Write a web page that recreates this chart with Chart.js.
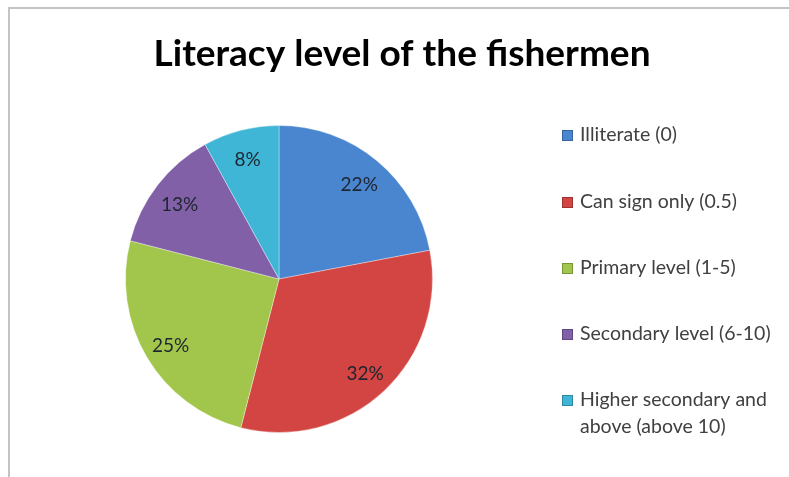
<!DOCTYPE html>
<html>
<head>
<meta charset="utf-8">
<script src="https://cdn.jsdelivr.net/npm/chart.js@4"></script>
<style>
  body { margin: 0; background: #fff; }
</style>
</head>
<body>
<canvas id="literacyPie" width="789" height="477"></canvas>
<script>
// data
const labels = ['Illiterate (0)', 'Can sign only (0.5)', 'Primary level (1-5)', 'Secondary level (6-10)', ['Higher secondary and', 'above (above 10)']];
const values = [22, 32, 25, 13, 8];
const sliceColors = ['#4a86d0', '#d24542', '#a2c64c', '#8160a8', '#3fb6d6'];
const chartTitle = 'Literacy level of the fishermen';

// frame, title, percent labels and the legend on the right
const decorations = {
    id: 'decorations',
    beforeDraw(chart) {
        const ctx = chart.ctx;
        ctx.save();
        ctx.strokeStyle = '#c4c4c4';
        ctx.lineWidth = 2;
        ctx.beginPath();
        ctx.moveTo(9, 477);
        ctx.lineTo(9, 8);
        ctx.lineTo(789, 8);
        ctx.stroke();
        ctx.restore();
    },
    afterDraw(chart) {
        const ctx = chart.ctx;
        ctx.save();

        // title
        ctx.fillStyle = '#000';
        ctx.font = 'bold 37px Lato';
        ctx.textAlign = 'center';
        ctx.textBaseline = 'middle';
        ctx.fillText(chartTitle, 402, 54);

        // percent labels inside slices
        const meta = chart.getDatasetMeta(0);
        const total = values.reduce((a, b) => a + b, 0);
        ctx.font = '19px Lato';
        ctx.fillStyle = '#1e2530';
        meta.data.forEach((arc, i) => {
            const mid = (arc.startAngle + arc.endAngle) / 2;
            const r = arc.outerRadius * 0.82;
            const pct = Math.round(values[i] / total * 100) + '%';
            ctx.fillText(pct, arc.x + Math.cos(mid) * r, arc.y + Math.sin(mid) * r + 3);
        });

        // legend
        const legendY = [135, 202, 268, 334, 400];
        ctx.textAlign = 'left';
        ctx.font = '19.5px Lato';
        labels.forEach((lab, i) => {
            const y = legendY[i];
            ctx.fillStyle = sliceColors[i];
            ctx.fillRect(562, y - 5, 11, 11);
            ctx.strokeStyle = 'rgba(0,0,0,0.25)';
            ctx.lineWidth = 1;
            ctx.strokeRect(562.5, y - 4.5, 10, 10);
            ctx.fillStyle = '#404040';
            const lines = Array.isArray(lab) ? lab : [lab];
            lines.forEach((t, j) => ctx.fillText(t, 580, y + j * 27));
        });
        ctx.restore();
    }
};

const ctx = document.getElementById('literacyPie').getContext('2d');
new Chart(ctx, {
    type: 'pie',
    data: {
        labels: labels,
        datasets: [{
            data: values,
            backgroundColor: sliceColors,
            borderColor: 'rgba(255,255,255,0.35)',
            borderWidth: 1
        }]
    },
    options: {
        responsive: false,
        animation: false,
        layout: {
            padding: { left: 125, right: 356, top: 125, bottom: 44 }
        },
        plugins: {
            legend: { display: false },
            title: { display: false },
            tooltip: { enabled: false }
        }
    },
    plugins: [decorations]
});
</script>
</body>
</html>
